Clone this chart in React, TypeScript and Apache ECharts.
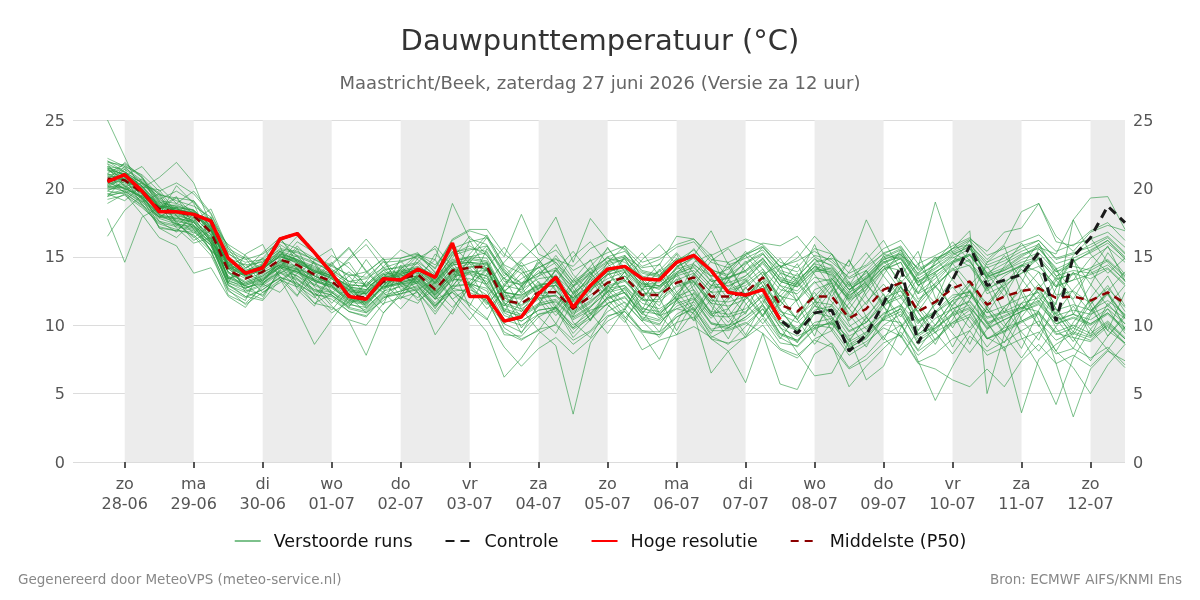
import React, { useEffect, useRef } from "react";
import * as echarts from "echarts";

// Time grid: forecast hours relative to 28-06 00:00, every 6 hours
const firstHour = -6;
const stepHours = 6;
const pointCount = 60;

const dayLabels = [
  "zo\n28-06", "ma\n29-06", "di\n30-06", "wo\n01-07", "do\n02-07",
  "vr\n03-07", "za\n04-07", "zo\n05-07", "ma\n06-07", "di\n07-07",
  "wo\n08-07", "do\n09-07", "vr\n10-07", "za\n11-07", "zo\n12-07",
];

const hogeResolutie = [
  20.5, 21.0, 19.8, 18.3, 18.3, 18.1, 17.6, 14.9, 13.8, 14.2,
  16.3, 16.7, 15.3, 13.8, 12.1, 11.9, 13.4, 13.3, 14.1, 13.5,
  16.0, 12.1, 12.1, 10.3, 10.6, 12.3, 13.5, 11.3, 12.9, 14.1,
  14.3, 13.4, 13.3, 14.6, 15.1, 14.0, 12.4, 12.2, 12.6, 10.4,
];

const controle = [
  20.5, 21.0, 19.8, 18.3, 18.3, 18.1, 17.6, 14.9, 13.8, 14.2,
  16.3, 16.7, 15.3, 13.8, 12.1, 11.9, 13.4, 13.3, 14.1, 13.5,
  16.0, 12.1, 12.1, 10.3, 10.6, 12.3, 13.5, 11.3, 12.9, 14.1,
  14.3, 13.4, 13.3, 14.6, 15.1, 14.0, 12.4, 12.2, 12.6, 10.4,
  9.4, 10.9, 11.1, 8.1, 9.3, 11.6, 14.3, 8.7, 11.0, 13.3,
  15.8, 12.9, 13.3, 13.7, 15.3, 10.3, 15.0, 16.4, 18.7, 17.5,
];

const middelste = [
  20.7, 20.6, 19.7, 18.5, 18.3, 18.0, 16.8, 14.0, 13.4, 13.9,
  14.8, 14.4, 13.7, 13.2, 12.2, 12.0, 13.2, 13.4, 13.7, 12.6,
  14.0, 14.2, 14.3, 11.8, 11.6, 12.4, 12.4, 11.2, 12.1, 13.1,
  13.5, 12.2, 12.2, 13.1, 13.5, 12.1, 12.1, 12.4, 13.5, 11.5,
  11.0, 12.1, 12.1, 10.5, 11.2, 12.6, 13.1, 11.0, 11.7, 12.7,
  13.2, 11.5, 12.1, 12.5, 12.7, 12.0, 12.1, 11.8, 12.4, 11.6,
];

const verstoordeRuns: number[][] = [
  [22.0,21.5,20.6,19.2,19.8,19.0,17.5,15.2,14.6,14.8,15.9,15.1,14.6,13.9,13.0,12.8,14.1,14.2,14.5,13.1,15.2,15.8,15.1,13.4,12.9,13.8,14.6,12.9,13.8,14.7,15.1,13.6,12.8,14.2,15.0,13.9,12.8,13.6,14.9,13.2,12.8,14.1,13.9,12.0,13.5,14.8,15.2,12.9,13.8,14.9,15.6,13.7,14.2,15.1,15.8,13.9,14.6,15.4,16.2,14.8],
  [19.4,19.8,18.9,17.2,16.9,16.8,15.9,12.9,12.1,12.6,13.5,13.1,12.2,12.1,11.0,10.6,12.0,12.5,12.9,11.4,12.8,13.0,12.2,10.1,9.5,10.8,11.2,9.1,10.4,11.6,12.1,10.5,10.1,11.4,11.9,10.2,9.8,10.6,11.5,9.4,8.9,10.2,10.5,8.3,9.1,10.4,11.0,8.6,9.5,10.2,11.1,9.0,9.8,10.3,11.0,9.4,9.1,8.8,9.9,8.6],
  [21.8,20.2,19.0,19.6,17.4,16.5,15.1,12.5,11.8,14.6,15.8,12.6,11.4,13.9,14.6,12.8,11.5,14.4,12.9,11.2,13.1,16.2,14.0,12.5,9.8,11.4,14.2,12.6,10.3,12.8,15.1,13.3,10.9,11.8,14.6,15.2,12.3,10.8,13.7,14.4,11.6,9.2,12.5,14.8,12.1,10.3,13.6,15.4,12.0,9.8,11.9,14.6,15.8,12.3,9.9,12.7,14.9,11.2,9.6,12.4],
  [25.0,22.3,19.6,18.1,20.2,18.9,16.0,13.1,15.2,15.9,13.4,12.1,14.8,15.6,13.0,11.3,12.4,14.9,15.3,13.8,11.9,12.8,15.6,13.9,12.4,14.8,13.2,10.6,13.5,15.7,13.9,11.1,13.6,15.2,12.5,10.9,13.8,15.4,14.1,11.8,13.3,15.9,13.0,10.4,12.6,15.1,12.8,9.6,11.7,14.6,16.2,13.4,10.9,13.1,15.6,14.2,10.8,12.9,15.3,13.7],
  [16.5,18.4,19.5,17.6,16.8,18.2,17.1,13.2,12.9,12.1,14.0,15.6,13.2,11.6,12.9,14.8,13.1,11.9,13.6,14.8,12.6,11.4,13.8,11.0,12.9,10.6,9.4,11.8,13.4,11.5,10.2,12.6,14.1,11.9,10.4,12.8,14.6,12.1,10.6,13.0,14.5,11.8,9.6,12.3,14.0,11.4,9.1,11.6,13.8,10.9,8.6,11.3,13.2,10.4,8.9,11.7,13.9,11.5,9.2,10.8],
  [17.8,14.6,17.9,18.6,19.4,17.3,15.4,14.6,13.6,12.4,13.1,14.2,12.4,11.1,12.6,13.8,14.9,12.6,13.1,15.2,14.1,11.3,10.4,12.9,14.2,11.9,10.1,12.4,13.9,12.2,11.1,13.5,12.0,9.6,11.8,13.4,11.2,9.3,11.6,13.8,12.1,9.8,11.5,13.2,10.6,8.9,11.4,13.5,11.0,8.4,10.7,12.8,10.2,8.3,11.1,13.3,11.8,9.2,11.6,10.1],
  [21.8,21.2,20.4,19.6,19.1,18.7,17.9,15.3,14.2,14.7,15.5,15.3,14.8,14.1,13.2,13.4,14.2,14.6,15.1,14.8,18.9,16.3,15.9,13.8,13.1,13.6,14.2,12.3,13.4,14.5,14.8,13.1,12.6,14.3,14.9,13.2,13.4,14.6,15.3,13.4,12.9,14.3,13.6,11.8,12.6,14.1,14.9,13.2,14.1,15.0,14.3,12.5,13.6,14.4,13.9,12.8,13.3,14.9,15.7,14.6],
  [20.1,20.3,19.2,17.9,17.8,17.6,16.1,13.4,12.9,13.3,14.2,13.6,12.6,12.4,11.6,11.1,12.3,12.9,13.2,11.9,12.4,11.0,9.5,6.2,7.6,9.4,10.1,8.9,9.6,11.0,11.7,10.3,9.1,10.6,11.3,9.2,8.6,9.9,11.2,9.1,8.4,9.7,10.3,8.6,9.4,10.9,11.4,9.3,10.5,11.2,11.8,10.2,10.7,11.3,11.8,10.4,10.8,10.1,10.9,9.8],
  [21.5,21.0,20.0,18.6,18.8,18.2,16.9,14.5,13.8,14.4,15.4,14.7,14.2,13.6,12.9,12.9,13.8,14.0,14.3,13.6,15.6,16.1,16.4,15.0,18.1,15.2,14.6,13.2,14.1,14.9,14.6,13.5,13.9,14.8,15.2,14.0,13.7,14.5,15.2,13.9,13.2,14.5,14.1,12.8,13.6,14.9,15.5,13.4,14.2,15.1,15.8,13.8,14.5,15.2,15.6,14.1,14.7,15.3,16.0,14.9],
  [20.4,20.0,19.4,18.1,17.4,17.2,16.0,13.1,12.7,13.3,14.3,13.9,13.3,12.7,11.8,11.6,12.8,13.0,13.2,12.0,13.4,13.1,12.5,9.8,9.0,9.6,8.5,3.5,8.7,10.6,11.2,9.6,9.3,10.8,11.5,9.7,10.0,10.9,12.2,10.4,9.8,11.1,11.4,9.6,10.2,11.5,12.0,10.3,10.9,11.8,12.2,10.6,11.0,11.6,12.0,10.7,11.1,10.8,11.4,10.5],
  [20.9,20.7,19.9,18.7,18.4,18.3,17.2,14.3,13.7,14.2,15.0,14.6,13.9,13.5,12.6,12.4,13.5,13.7,14.1,13.3,15.1,15.5,15.8,13.6,14.8,15.9,17.9,14.6,17.8,16.2,15.6,14.3,14.8,15.7,16.1,14.6,14.2,15.1,15.8,14.3,14.7,15.4,14.6,13.5,14.3,15.2,15.8,14.0,14.7,15.3,15.9,14.4,14.9,15.6,16.2,14.8,15.2,15.9,16.5,15.3],
  [20.6,21.9,20.8,19.1,17.6,16.2,16.9,14.8,12.4,11.9,14.2,15.8,14.5,12.4,11.3,13.2,14.7,12.9,12.0,13.6,15.4,13.0,11.6,12.8,14.6,13.1,11.2,13.3,14.8,12.4,10.6,9.4,7.5,10.2,12.4,10.9,9.0,11.5,12.9,10.2,8.7,10.9,12.6,10.1,8.4,10.6,12.8,11.0,8.9,10.4,12.5,10.3,8.1,10.6,12.2,9.8,8.3,10.7,12.3,10.5],
  [21.0,21.1,20.2,18.4,18.1,17.6,16.6,14.2,13.6,14.0,14.7,14.3,13.4,13.1,12.3,12.2,13.3,13.5,13.8,12.7,14.1,14.5,14.0,11.6,11.2,12.0,12.2,11.0,11.8,12.7,12.9,11.6,11.2,12.0,10.8,6.5,8.1,9.2,10.5,8.7,8.5,9.8,10.2,8.4,9.0,10.5,11.2,9.0,9.8,10.9,11.5,9.7,10.4,11.0,11.6,10.1,10.5,10.0,10.8,9.6],
  [21.3,20.8,19.8,18.9,18.5,18.1,17.0,14.4,13.5,14.1,15.1,14.5,14.0,13.4,12.4,12.3,13.4,13.6,13.9,12.8,14.4,14.6,14.5,12.1,11.9,12.7,12.9,11.7,12.6,13.4,13.9,12.6,12.8,13.6,14.0,12.7,12.9,13.4,14.5,12.9,12.5,13.9,14.2,12.6,13.5,14.8,15.3,13.8,14.9,15.4,16.2,14.8,15.9,18.3,18.9,16.1,15.8,16.9,17.5,16.2],
  [20.6,20.4,19.6,18.3,18.2,17.8,16.3,13.9,13.1,13.6,14.5,14.1,13.6,13.0,12.1,11.9,13.1,13.4,13.6,12.4,13.9,14.2,14.6,12.0,11.5,12.2,12.1,10.8,11.6,12.9,13.3,11.9,11.7,12.8,13.2,11.6,11.4,11.9,12.9,10.8,10.2,11.4,11.0,9.2,9.9,10.8,11.5,9.4,9.8,10.7,11.2,9.1,8.4,3.6,7.5,8.6,9.4,8.9,10.1,9.0],
  [19.9,20.1,19.3,18.0,17.7,17.3,16.2,13.5,12.9,13.4,14.2,13.8,13.0,12.5,11.7,11.5,12.7,13.0,13.3,12.1,13.5,13.9,14.0,11.5,11.0,11.9,12.2,10.9,11.7,12.8,13.2,11.8,11.9,12.9,13.3,11.8,11.7,12.1,13.2,11.0,10.6,11.7,11.5,9.9,10.7,12.0,12.5,10.4,11.0,12.2,12.4,10.5,10.9,11.3,11.0,7.2,3.3,6.8,8.1,7.4],
  [21.6,21.4,20.5,19.1,18.9,18.4,17.3,14.8,13.9,14.4,15.3,14.8,14.3,13.7,12.8,12.6,13.7,13.9,14.2,13.2,14.8,15.0,14.9,12.4,12.1,12.9,13.2,11.9,12.8,13.7,14.1,12.9,12.7,13.7,14.3,12.9,12.6,13.1,14.1,12.6,12.3,13.5,13.2,11.9,12.8,14.1,14.6,12.4,13.4,14.5,15.1,13.5,14.1,15.0,15.7,15.2,17.7,19.3,19.4,17.0],
  [20.8,20.9,19.9,18.6,18.2,17.9,16.7,14.1,13.4,13.8,14.6,14.2,13.6,13.1,12.2,11.9,13.1,13.3,13.6,12.5,14.0,14.3,14.1,11.8,11.4,12.3,12.5,11.3,12.2,13.2,13.6,12.3,12.4,13.3,13.8,12.4,12.5,12.9,13.9,12.1,11.8,13.1,13.4,12.1,13.2,14.5,15.1,14.2,19.0,15.3,14.6,13.2,13.8,14.3,14.8,13.4,13.7,14.2,14.8,13.6],
  [20.3,20.6,19.5,18.4,18.3,18.0,16.6,13.9,13.2,13.7,14.4,14.0,13.3,12.9,11.9,11.7,12.9,13.1,13.5,12.4,13.7,13.8,13.4,11.2,10.8,11.6,11.9,10.6,11.4,12.4,12.7,11.2,11.0,12.1,12.6,11.0,10.8,11.2,12.3,10.2,9.7,10.9,10.6,8.8,9.5,10.4,10.2,7.4,4.5,7.0,9.2,8.1,8.8,9.6,10.3,8.9,9.5,9.1,10.0,8.7],
  [21.4,21.0,20.2,18.7,18.4,18.2,17.1,14.5,13.7,14.2,15.0,14.7,14.0,13.6,12.7,12.5,13.6,13.8,14.0,13.0,14.5,14.8,14.6,12.4,12.2,12.9,13.1,12.0,12.9,13.9,14.2,13.0,13.1,14.1,14.5,13.2,13.5,13.9,14.8,13.5,13.1,14.6,14.9,14.3,17.7,15.2,14.8,13.1,13.9,14.6,15.2,13.6,14.0,14.8,15.3,13.9,14.3,14.0,14.7,13.5],
  [20.0,20.2,19.4,18.0,17.9,17.5,16.3,13.6,13.0,13.5,14.3,13.9,13.2,12.8,11.8,11.6,12.8,13.1,13.4,12.2,13.6,13.7,13.2,10.9,10.3,11.1,11.3,9.8,10.7,11.9,12.4,10.8,10.4,11.6,12.0,10.1,9.7,10.2,9.4,5.7,5.3,7.9,8.7,6.9,7.8,9.2,10.0,8.1,9.0,10.2,10.8,9.0,9.6,10.3,10.9,9.5,10.0,9.4,10.3,9.1],
  [20.5,20.7,19.6,18.3,18.0,17.7,16.4,13.8,13.1,13.6,14.4,14.1,13.3,12.9,12.0,11.8,13.0,13.2,13.5,12.3,13.9,14.0,13.6,11.1,10.6,11.4,11.8,10.5,11.3,12.5,12.9,11.3,10.7,11.2,10.9,9.0,8.1,5.8,9.4,8.2,7.6,9.0,9.6,7.8,8.6,10.0,10.8,8.8,9.7,10.8,11.3,9.8,10.4,11.0,11.5,10.1,10.6,10.1,10.9,9.7],
  [21.1,20.5,20.0,18.6,18.5,18.1,16.9,14.2,13.6,14.1,15.0,14.6,13.9,13.4,12.5,12.3,13.5,13.7,14.1,13.1,14.6,15.0,15.3,12.9,12.6,13.4,13.6,12.4,13.2,14.3,14.9,13.8,13.5,14.6,15.1,16.9,14.4,14.9,15.5,14.0,13.6,14.8,14.4,12.9,13.8,15.0,15.6,13.7,14.4,15.2,15.7,14.2,14.7,15.4,15.9,14.5,14.9,15.5,16.2,15.0],
  [20.2,20.9,21.6,20.1,18.9,19.8,18.2,15.6,14.9,13.2,14.6,16.1,15.3,13.6,14.8,15.9,14.2,13.1,14.9,15.6,13.2,14.8,16.4,14.1,12.8,14.5,15.9,13.7,12.4,14.6,15.8,13.3,12.0,14.2,15.6,13.9,12.5,14.4,15.7,14.2,14.9,16.5,15.2,12.9,14.8,16.2,14.0,12.3,14.6,16.1,14.7,12.6,14.3,16.0,14.4,12.8,15.1,16.4,14.6,13.2],
  [19.6,19.9,19.1,17.9,17.6,17.3,16.0,13.3,12.7,13.1,14.0,13.6,12.9,12.4,11.5,11.3,12.5,12.8,13.1,11.9,13.3,13.4,13.0,10.7,10.3,11.1,11.3,10.0,10.9,12.0,12.4,11.0,10.8,11.9,12.3,10.7,10.6,11.0,12.1,9.8,9.2,9.8,8.6,5.5,7.0,8.3,9.5,7.8,8.9,10.1,10.6,9.0,9.5,10.2,10.8,9.3,9.8,9.2,10.2,9.0],
  [22.2,21.6,21.0,19.8,20.4,19.6,18.1,15.4,14.8,15.2,16.1,15.6,14.9,14.4,13.6,13.9,14.8,14.9,15.2,14.1,16.2,16.9,16.5,14.4,13.8,14.2,14.9,13.1,13.9,15.0,15.4,14.0,13.7,14.7,15.5,14.1,13.5,14.0,15.2,13.8,13.4,14.2,13.8,12.4,13.1,14.3,14.0,12.3,13.0,14.0,14.4,12.7,13.2,13.8,14.3,12.9,13.3,13.7,14.2,13.0],
  [19.2,19.5,18.6,17.5,17.2,16.9,15.5,12.6,11.5,12.4,13.3,12.8,11.6,11.3,10.4,10.0,11.6,12.0,12.4,11.0,12.5,12.6,12.0,9.3,9.2,10.6,11.3,9.4,10.8,12.0,12.6,10.4,10.0,11.8,12.9,10.8,11.2,12.7,13.9,11.8,10.4,12.6,13.1,10.6,12.3,14.0,14.6,11.9,12.8,14.1,14.8,12.3,12.9,13.8,14.9,12.2,12.5,11.6,12.7,11.3],
  [21.0,20.6,20.0,20.8,21.9,20.4,17.3,15.9,15.1,14.0,15.4,14.1,12.9,14.4,15.6,14.0,12.7,13.8,15.1,13.9,12.8,14.6,15.8,14.0,12.3,13.6,15.1,13.4,11.9,13.7,14.9,12.6,11.4,13.8,15.0,13.5,11.9,13.2,14.7,12.9,11.8,13.9,15.2,13.1,11.5,13.7,15.5,13.0,11.6,13.4,15.6,13.8,12.1,14.3,16.0,13.6,11.9,14.1,15.8,13.2],
  [18.9,19.6,18.1,16.4,15.8,13.8,14.2,12.1,11.3,13.0,14.8,13.1,11.6,12.3,13.6,12.2,10.9,12.4,13.7,12.1,10.8,12.9,14.1,11.7,9.4,11.6,13.0,10.2,9.1,11.3,12.8,11.0,9.5,11.9,13.2,11.4,9.8,12.1,13.4,11.2,9.4,11.7,13.1,10.8,9.2,11.6,12.9,10.4,8.6,10.9,12.6,10.1,8.7,11.0,12.8,10.5,8.8,10.9,12.4,9.7],
  [19.8,20.5,19.3,17.1,16.4,17.6,15.4,12.2,11.6,12.8,13.4,11.2,8.6,10.4,12.1,10.9,11.8,13.1,12.4,10.8,12.6,13.9,11.7,10.1,11.8,13.2,11.4,9.8,11.3,12.9,11.6,10.3,12.0,13.4,11.1,9.4,11.2,12.8,10.7,9.0,10.8,12.4,10.6,8.9,10.5,12.3,10.1,8.2,10.0,11.8,10.3,8.4,9.9,11.6,10.0,8.1,10.2,11.9,9.6,8.7],
  [20.6,19.7,19.9,18.8,17.1,16.0,16.4,13.9,12.6,12.2,13.8,14.5,12.8,11.4,10.3,7.8,10.9,12.2,13.8,12.6,11.3,12.7,14.0,12.1,10.6,12.3,13.7,11.8,10.4,12.1,13.6,12.0,10.5,12.2,13.5,11.6,10.2,11.9,13.2,11.1,9.6,11.4,12.9,11.2,9.7,11.3,12.8,10.9,9.4,11.5,13.0,11.2,9.5,11.1,12.6,10.8,9.3,11.0,12.4,10.6],
  [21.9,21.7,20.8,19.5,19.3,19.1,17.6,14.9,14.4,14.6,15.6,15.4,14.8,14.3,13.7,13.5,14.6,14.7,15.0,14.2,16.3,17.0,17.0,15.2,14.3,14.8,15.5,14.0,14.7,15.3,15.8,14.6,15.0,15.9,16.3,15.1,15.7,16.3,15.9,14.6,14.2,15.6,15.2,13.8,14.4,15.6,16.2,14.5,15.1,15.8,16.4,15.1,15.6,16.1,16.6,15.4,15.9,16.3,16.8,15.7],
  [19.8,19.6,18.8,17.6,17.3,17.0,15.8,12.9,12.4,12.9,13.8,13.3,12.5,12.2,11.2,10.9,12.1,12.3,12.6,11.3,12.7,12.4,11.8,9.5,8.9,9.7,10.0,8.6,9.5,10.7,11.0,9.5,9.3,10.2,10.6,9.0,8.7,9.1,10.0,8.3,7.8,8.9,8.4,6.8,7.5,8.7,9.3,7.3,7.9,9.0,9.6,7.8,8.4,9.0,9.5,7.9,8.3,7.6,8.4,7.1],
  [21.5,20.1,20.7,19.3,18.0,17.1,16.0,14.9,14.1,15.3,16.4,14.6,13.3,14.5,15.7,13.9,12.6,14.1,15.2,14.4,15.9,14.5,13.0,14.6,16.0,14.8,13.1,15.0,16.1,14.5,13.2,14.8,15.9,14.4,12.9,14.7,15.6,13.9,12.5,14.2,15.4,13.7,12.1,13.9,15.3,13.6,12.0,13.8,15.0,13.3,11.9,13.6,15.1,13.4,11.7,13.5,14.8,13.0,11.4,12.9],
  [20.3,21.4,19.2,17.9,18.6,17.2,16.5,13.4,13.9,13.1,13.9,12.8,13.9,12.2,11.4,12.6,13.8,12.1,11.6,13.2,14.6,12.9,11.5,13.0,14.4,12.5,11.0,12.8,14.2,12.6,11.3,13.1,14.5,12.4,11.0,12.9,14.3,12.2,10.7,12.4,13.8,11.9,10.3,12.5,14.0,12.2,10.6,12.8,14.7,15.6,16.9,5.0,9.3,12.4,13.9,11.2,9.5,12.0,13.6,11.4],
  [20.2,20.0,19.3,18.1,17.8,17.5,16.2,13.5,13.0,13.4,14.3,13.9,13.2,12.8,11.9,11.7,12.8,13.1,13.4,12.3,13.8,13.9,13.6,11.0,10.7,11.5,11.7,10.4,11.1,11.5,10.4,8.2,8.9,9.3,9.9,9.1,9.8,10.6,11.8,10.1,9.6,10.8,11.2,9.5,10.2,11.6,12.2,10.2,10.9,12.0,12.5,10.9,11.4,12.0,12.4,11.1,11.5,11.1,11.8,10.8],
  [21.5,21.2,20.4,19.0,18.7,18.4,17.3,14.7,14.0,14.5,15.4,15.0,14.5,14.0,13.2,13.0,14.0,14.3,14.6,13.7,15.3,15.6,15.4,13.2,13.0,13.8,14.0,12.8,13.7,14.6,15.0,14.2,14.4,16.5,16.3,14.8,14.6,15.2,15.7,14.3,13.9,15.1,14.8,13.4,14.0,15.3,15.7,14.1,14.8,15.6,15.9,14.6,15.2,15.8,16.2,14.9,15.3,15.7,16.4,15.2],
  [19.4,20.8,19.9,17.1,16.9,17.9,16.0,13.0,12.1,11.8,13.3,14.1,12.1,10.9,11.7,13.2,12.4,11.2,12.6,13.4,11.9,10.4,12.1,13.5,11.2,9.6,11.4,12.9,10.9,9.4,11.2,12.7,10.8,9.3,11.0,12.5,10.6,9.1,10.8,12.2,10.4,8.6,10.2,9.1,6.0,7.0,9.8,11.3,9.5,7.9,9.6,11.2,9.3,7.6,9.4,11.0,9.1,7.4,9.2,10.6],
  [20.9,19.9,20.4,19.7,18.0,16.7,17.9,14.4,12.7,13.2,14.9,13.4,12.2,13.5,12.9,11.6,12.9,14.2,13.1,11.9,13.4,14.8,12.9,11.4,12.8,14.3,12.6,11.1,12.7,14.0,12.3,10.8,12.4,13.8,12.0,10.5,11.9,13.3,11.5,9.9,8.0,6.3,6.5,8.8,10.6,9.1,7.8,9.6,11.1,9.4,8.0,9.7,11.3,9.5,8.1,9.9,11.4,9.7,8.2,9.9],
  [21.1,21.8,20.9,18.5,19.3,18.1,17.8,15.8,14.2,14.9,16.3,15.0,13.8,15.1,14.2,12.9,14.3,15.5,14.8,13.5,14.9,16.5,15.1,13.4,14.7,16.0,14.4,12.9,14.3,15.6,14.2,12.6,14.0,15.3,13.8,12.4,13.7,15.1,13.6,12.1,13.5,14.9,13.4,11.9,13.3,14.7,13.2,11.7,13.1,14.5,13.0,11.6,13.0,14.4,13.0,11.5,17.7,15.2,13.8,14.9],
  [20.1,20.8,18.8,17.9,18.7,17.0,15.5,14.1,14.5,13.0,12.4,13.8,14.6,12.9,11.6,12.5,14.0,13.2,11.8,12.6,14.2,12.8,11.2,12.4,13.8,12.1,10.7,12.2,13.6,11.9,10.5,12.0,13.4,11.8,10.3,11.9,13.3,11.6,10.1,11.7,13.1,11.5,10.0,11.6,13.0,11.4,9.9,11.5,12.9,11.3,9.8,11.4,12.8,9.1,7.0,4.2,7.6,9.7,11.2,9.4],
  [21.6,20.9,20.5,19.0,18.6,18.4,17.0,14.4,13.8,14.3,15.2,14.8,14.0,13.6,12.6,12.4,13.5,13.8,14.1,13.0,14.6,14.6,14.2,12.5,13.4,14.2,14.8,14.3,15.6,16.2,15.5,13.9,13.6,14.7,15.1,13.6,13.4,14.0,14.9,13.2,12.8,14.0,13.7,12.2,13.0,14.3,14.9,12.9,13.6,14.6,15.1,13.5,14.0,14.6,15.0,13.6,14.0,13.8,14.4,13.3],
  [20.6,20.0,19.4,18.7,17.3,18.3,16.8,13.4,13.8,14.9,13.6,12.2,13.5,14.6,12.8,11.4,12.9,14.1,12.4,9.3,11.1,13.2,14.5,12.6,11.0,12.7,14.0,12.3,10.8,12.5,13.9,12.2,10.7,12.4,13.7,12.0,10.6,12.3,13.5,11.8,10.4,12.1,13.4,11.7,10.2,11.9,13.3,11.5,10.0,11.8,13.2,11.4,9.9,11.6,13.0,11.2,9.8,11.5,12.9,11.0],
  [22.0,21.2,20.1,19.9,18.2,17.6,18.5,15.6,13.9,14.1,15.1,16.5,15.2,13.6,14.9,16.3,14.8,13.4,14.6,15.8,14.3,12.9,14.2,15.7,14.0,12.6,14.0,15.4,13.8,12.4,13.9,15.3,13.6,12.2,13.7,15.1,13.4,12.0,13.5,14.9,13.2,11.8,13.3,14.7,13.0,11.6,13.1,14.5,12.8,11.4,12.9,14.3,12.6,11.2,12.7,14.1,12.4,11.0,12.5,13.9],
  [20.1,19.8,19.0,17.8,17.4,17.1,15.8,13.1,12.5,13.0,13.9,13.4,12.6,12.2,11.3,11.0,12.2,12.5,12.8,11.5,12.4,11.6,10.5,8.4,7.0,8.3,9.1,7.9,9.0,10.3,11.0,9.6,9.5,10.6,11.2,9.6,9.6,10.1,11.2,9.3,8.8,10.0,10.1,8.5,9.2,10.6,11.2,9.2,10.0,11.2,11.7,10.1,10.6,11.2,11.7,10.3,10.8,10.4,11.2,10.1],
  [21.3,21.1,20.1,18.8,18.5,18.2,17.0,14.3,13.7,14.2,15.1,14.7,13.9,13.5,12.5,12.3,13.4,13.6,13.9,12.9,14.4,14.6,14.4,12.2,12.0,12.8,12.9,11.8,12.7,13.7,14.0,12.8,12.9,13.9,14.4,13.6,14.1,15.2,16.0,15.8,16.5,15.0,14.3,12.6,13.4,14.6,15.0,13.2,13.9,14.7,15.2,13.4,13.8,14.4,14.9,13.3,13.8,13.4,14.1,12.9],
  [19.5,19.7,18.7,17.4,17.0,16.6,15.4,12.7,12.0,12.6,13.5,13.0,12.3,11.9,11.0,10.7,12.0,12.3,12.7,11.4,12.9,13.0,12.7,10.4,10.0,10.8,11.0,9.7,10.5,11.6,12.0,10.6,10.3,11.2,11.7,10.1,10.0,10.4,11.4,9.4,8.9,10.0,9.8,8.1,8.8,9.8,9.2,7.2,6.8,6.0,5.5,6.8,5.5,7.4,8.6,7.2,7.8,7.0,8.2,6.9],
  [20.4,21.6,20.3,19.4,18.2,19.1,17.0,14.3,15.0,13.9,14.4,15.1,13.6,12.9,13.9,12.8,13.5,14.7,13.3,12.2,13.6,15.2,16.6,14.3,13.0,14.6,13.2,12.0,13.7,15.0,13.3,11.9,13.5,14.9,13.1,11.6,13.3,14.7,12.9,11.4,13.1,14.5,12.7,11.2,12.9,14.3,12.5,11.0,12.8,14.2,12.4,10.9,12.7,14.1,12.3,10.8,12.6,14.0,12.2,10.7],
  [19.6,19.1,20.2,18.9,17.5,16.4,17.3,14.2,12.8,13.0,14.3,12.9,12.0,13.4,12.6,11.2,12.4,13.7,13.0,11.6,12.9,14.2,12.8,11.4,12.7,14.0,12.5,11.1,12.5,13.8,12.3,10.9,12.3,13.6,12.1,10.7,12.1,13.4,11.9,10.5,11.9,13.2,11.7,10.3,11.7,13.0,11.5,10.1,11.5,12.8,11.3,9.9,11.3,12.6,10.4,8.1,6.9,5.0,7.1,8.6],
  [21.4,20.6,19.9,18.7,18.6,18.4,17.2,14.6,14.0,14.3,15.2,14.8,14.1,13.6,12.8,12.6,13.7,13.9,14.2,13.1,14.7,14.9,14.7,12.4,12.2,13.0,13.1,12.0,12.9,13.9,14.3,13.0,12.9,13.8,14.2,12.9,13.1,13.6,14.6,13.3,13.0,14.3,14.0,12.6,13.4,14.6,15.2,13.6,14.4,15.6,16.3,15.4,16.8,17.1,18.9,16.5,15.4,16.8,17.3,16.9],
];

// alternate days shaded (index into dayLabels)
const shadedDayIndex = [0, 2, 4, 6, 8, 10, 12, 14];

const FONT = "DejaVu Sans";

export default function App() {
  const ref = useRef<HTMLDivElement>(null);

  useEffect(() => {
    if (!ref.current) return;
    const chart = echarts.init(ref.current, null, { renderer: "svg" });

    const hours: number[] = [];
    for (let i = 0; i < pointCount; i++) hours.push(firstHour + i * stepHours);
    const toPairs = (vals: number[]) => vals.map((v, i) => [hours[i], v]);
    const dayTicks = dayLabels.map((_, i) => i * 24);
    const axisMin = -18;
    const axisMax = 348;

    const bands = shadedDayIndex.map((d) => [
      { xAxis: d * 24 },
      { xAxis: Math.min((d + 1) * 24, axisMax) },
    ]);

    const series: any[] = [
      {
        name: "bands",
        type: "line",
        data: [],
        silent: true,
        z: 0,
        markArea: {
          silent: true,
          itemStyle: { color: "#ececec" },
          data: bands,
        },
      },
    ];

    verstoordeRuns.forEach((run) => {
      series.push({
        name: "Verstoorde runs",
        type: "line",
        data: toPairs(run),
        symbol: "none",
        z: 2,
        lineStyle: { color: "#27973f", width: 1, opacity: 0.6 },
        itemStyle: { color: "#27973f" },
      });
    });

    series.push({
      name: "Middelste (P50)",
      type: "line",
      data: toPairs(middelste),
      symbol: "none",
      z: 3,
      lineStyle: { color: "#8b0000", width: 2.5, type: [8, 6] },
      itemStyle: { color: "#8b0000" },
    });
    series.push({
      name: "Controle",
      type: "line",
      data: toPairs(controle),
      symbol: "none",
      z: 4,
      lineStyle: { color: "#1a1a1a", width: 3, type: [9, 6] },
      itemStyle: { color: "#1a1a1a" },
    });
    series.push({
      name: "Hoge resolutie",
      type: "line",
      data: toPairs(hogeResolutie),
      symbol: "none",
      z: 5,
      lineStyle: { color: "#ff0000", width: 3.5 },
      itemStyle: { color: "#ff0000" },
    });

    const yLabel = { fontSize: 16, color: "#555", fontFamily: FONT };
    const footer = { fontSize: 13.5, fontWeight: "normal", color: "#888", fontFamily: FONT };

    chart.setOption({
      animation: false,
      textStyle: { fontFamily: FONT },
      title: [
        {
          text: "Dauwpunttemperatuur (°C)",
          left: "center",
          top: 25,
          padding: 0,
          textStyle: { fontSize: 29, fontWeight: "normal", color: "#333", fontFamily: FONT },
        },
        {
          text: "Maastricht/Beek, zaterdag 27 juni 2026 (Versie za 12 uur)",
          left: "center",
          top: 73,
          padding: 0,
          textStyle: { fontSize: 18, fontWeight: "normal", color: "#666", fontFamily: FONT },
        },
        {
          text: "Gegenereerd door MeteoVPS (meteo-service.nl)",
          left: 18,
          top: 572,
          padding: 0,
          textStyle: footer,
        },
        {
          text: "Bron: ECMWF AIFS/KNMI Ens",
          right: 18,
          top: 572,
          padding: 0,
          textStyle: footer,
        },
      ],
      legend: {
        data: ["Verstoorde runs", "Controle", "Hoge resolutie", "Middelste (P50)"],
        top: 527,
        left: "center",
        itemWidth: 26,
        itemHeight: 14,
        itemGap: 32,
        itemStyle: { opacity: 0 },
        textStyle: { fontSize: 17.5, color: "#111", fontFamily: FONT, padding: [0, 0, 0, 8] },
      },
      grid: { left: 73, right: 75, top: 120, bottom: 138 },
      xAxis: {
        type: "value",
        min: axisMin,
        max: axisMax,
        splitLine: { show: false },
        axisLine: { show: false },
        axisTick: {
          show: true,
          customValues: dayTicks,
          length: 6,
          lineStyle: { color: "#555", width: 2 },
        },
        axisLabel: {
          customValues: dayTicks,
          formatter: (v: number) => dayLabels[Math.round(v / 24)] ?? "",
          fontSize: 16,
          lineHeight: 20,
          color: "#555",
          margin: 11,
          fontFamily: FONT,
        },
      },
      yAxis: [
        {
          type: "value",
          min: 0,
          max: 25,
          interval: 5,
          position: "left",
          axisLine: { show: false },
          axisTick: { show: false },
          splitLine: { lineStyle: { color: "#dcdcdc", width: 1 } },
          axisLabel: { ...yLabel, margin: 8 },
        },
        {
          type: "value",
          min: 0,
          max: 25,
          interval: 5,
          position: "right",
          axisLine: { show: false },
          axisTick: { show: false },
          splitLine: { show: false },
          axisLabel: { ...yLabel, margin: 8 },
        },
      ],
      series,
    });

    return () => chart.dispose();
  }, []);

  return (
    <div
      ref={ref}
      style={{ position: "fixed", left: 0, top: 0, width: 1200, height: 600 }}
    />
  );
}
